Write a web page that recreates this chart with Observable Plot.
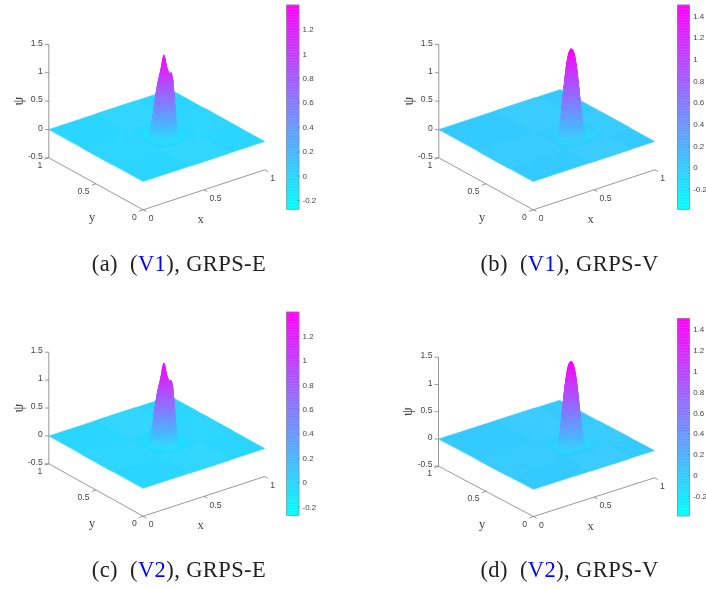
<!DOCTYPE html>
<html>
<head>
<meta charset="utf-8">
<script src="https://cdn.jsdelivr.net/npm/d3@7"></script>
<script src="https://cdn.jsdelivr.net/npm/@observablehq/plot@0.6"></script>
<style>
html,body{margin:0;padding:0;background:#fff;width:706px;height:589px;overflow:hidden}
#page{position:relative;width:706px;height:589px}
.panel{position:absolute;width:353px;height:289px}
.panel svg{display:block;background:#fff;filter:blur(.3px)}
.cap{position:absolute;white-space:nowrap;font-family:"Liberation Serif",serif;font-size:22.5px;color:#222;letter-spacing:.4px;transform:translateX(-50%);filter:blur(.2px)}
.cap b{font-weight:normal;color:#0000ff}
</style>
</head>
<body>
<div id="page"></div>
<script>
// surface height tables: psi at local grid around the peak (rows: y offset, columns: x offset)
const gridSteps = [-8,-7,-6,-5,-4,-3,-2,-1,0,1,2,3,4,5,6,7,8];
const gridSpacing = 0.02;
const psiE = [
[0,0,0,0,0,0,0,-.01,-.02,-.01,0,0,0,0,0,0,0],
[0,0,0,0,0,0,-.02,-.04,-.05,-.03,-.02,-.01,0,0,0,0,0],
[0,0,0,-.01,-.02,-.03,-.06,-.11,-.09,-.05,-.04,-.03,-.02,-.01,0,0,0],
[0,0,-.01,-.02,-.04,-.06,-.07,-.09,-.07,-.04,-.06,-.06,-.04,-.02,-.01,0,0],
[0,0,-.02,-.05,-.08,-.05,.03,.10,.14,.10,.03,-.04,-.06,-.04,-.02,0,0],
[0,-.01,-.03,-.07,-.09,.07,.27,.42,.50,.42,.27,.07,-.04,-.06,-.03,-.01,0],
[0,-.01,-.04,-.07,.01,.27,.60,.80,.90,.80,.70,.35,.03,-.06,-.04,-.01,0],
[0,-.02,-.05,-.04,.10,.42,.80,1.02,1.14,1.08,1.00,.90,.25,-.04,-.05,-.02,0],
[0,-.02,-.05,-.04,.14,.37,.84,1.11,1.39,1.16,1.03,.96,.28,-.04,-.05,-.02,0],
[0,-.02,-.05,-.04,.10,.42,.80,1.02,1.12,1.05,.95,.65,.20,-.04,-.05,-.02,0],
[0,-.01,-.04,-.06,.03,.27,.60,.80,.90,.80,.60,.27,.03,-.06,-.04,-.01,0],
[0,-.01,-.03,-.06,-.04,.07,.27,.42,.54,.42,.27,.07,-.04,-.06,-.03,-.01,0],
[0,0,-.02,-.04,-.06,-.04,.03,.10,.14,.10,.03,-.04,-.06,-.04,-.02,0,0],
[0,0,-.01,-.02,-.04,-.06,-.06,-.04,-.04,-.04,-.06,-.06,-.04,-.02,-.01,0,0],
[0,0,0,-.01,-.02,-.03,-.04,-.05,-.05,-.05,-.04,-.03,-.02,-.01,0,0,0],
[0,0,0,0,0,-.01,-.01,-.02,-.02,-.02,-.01,-.01,0,0,0,0,0],
[0,0,0,0,0,0,0,0,0,0,0,0,0,0,0,0,0]
];
const psiV = [
[0,0,0,0,0,0,0,0,0,0,0,0,0,0,0,0,0],
[0,0,0,0,-.01,-.01,-.01,-.01,-.02,-.01,-.01,-.01,0,0,0,0,0],
[0,0,-.01,-.01,-.02,-.02,-.03,-.03,-.03,-.03,-.03,-.02,-.02,-.01,-.01,0,0],
[0,-.01,-.03,-.05,-.04,-.03,-.03,-.02,-.02,-.02,-.03,-.04,-.05,-.04,-.02,-.01,0],
[0,-.02,-.08,-.12,-.09,-.05,-.03,.01,.04,.01,-.03,-.06,-.09,-.12,-.07,-.02,0],
[0,-.04,-.14,-.20,-.12,-.04,.14,.38,.50,.41,.18,-.02,-.12,-.19,-.14,-.04,0],
[0,-.04,-.15,-.20,-.08,.18,.59,.91,1.03,.91,.59,.18,-.06,-.19,-.14,-.04,0],
[0,-.02,-.07,-.10,.01,.41,.91,1.27,1.39,1.27,.91,.41,.01,-.09,-.06,-.02,0],
[0,-.02,-.03,-.04,.04,.50,1.03,1.39,1.50,1.39,1.03,.50,.04,-.04,-.03,-.02,0],
[0,-.02,-.03,-.05,.01,.41,.91,1.27,1.39,1.27,.91,.41,.01,-.05,-.03,-.02,0],
[0,-.01,-.03,-.05,-.05,.18,.59,.91,1.03,.91,.59,.18,-.05,-.05,-.03,-.01,0],
[0,-.01,-.03,-.04,-.05,-.02,.18,.41,.50,.41,.18,-.02,-.05,-.04,-.03,-.01,0],
[0,0,-.02,-.03,-.04,-.05,-.03,.01,.04,.01,-.03,-.05,-.04,-.03,-.02,0,0],
[0,0,-.01,-.02,-.03,-.03,-.04,-.04,-.04,-.04,-.04,-.03,-.03,-.02,-.01,0,0],
[0,0,0,-.01,-.01,-.01,-.02,-.02,-.02,-.02,-.02,-.01,-.01,-.01,0,0,0],
[0,0,0,0,0,0,-.01,-.01,-.01,-.01,-.01,0,0,0,0,0,0],
[0,0,0,0,0,0,0,0,0,0,0,0,0,0,0,0,0]
];
const peakE = [0.55, 0.49];
const peakV = [0.64, 0.42];
const colorDomainE = [-0.276, 1.397];
const colorDomainV = [-0.39, 1.5];
const colorTicksE = [-0.2, 0, 0.2, 0.4, 0.6, 0.8, 1, 1.2];
const colorTicksV = [-0.2, 0, 0.2, 0.4, 0.6, 0.8, 1, 1.2, 1.4];
const zTicks = [-0.5, 0, 0.5, 1, 1.5];
const xyTicks = [0, 0.5, 1];
const captions = [["(a)", "V1", "GRPS-E"], ["(b)", "V1", "GRPS-V"], ["(c)", "V2", "GRPS-E"], ["(d)", "V2", "GRPS-V"]];

// layout of the four panels
const panels = [
  {left:0,  top:0,  table:psiE, peak:peakE, domain:colorDomainE, ticks:colorTicksE, front:[142.7,209.3], xv:[121.6,-40], yv:[-94.4,-52], zu:56.7, bar:[286.7,299,5,209.3], capX:179, capTop:251},
  {left:353,top:0,  table:psiV, peak:peakV, domain:colorDomainV, ticks:colorTicksV, front:[179.7,209.3], xv:[121.6,-40], yv:[-94.4,-52], zu:56.7, bar:[324.3,336.7,5,209.3], capX:216.5, capTop:251},
  {left:0,  top:300,table:psiE, peak:peakE, domain:colorDomainE, ticks:colorTicksE, front:[142.7,215.7], xv:[121.6,-39.7], yv:[-94.4,-52.4], zu:55.8, bar:[286.7,299,12,215.7], capX:179, capTop:257},
  {left:353,top:300,table:psiV, peak:peakV, domain:colorDomainV, ticks:colorTicksV, front:[180,216], xv:[121,-38.7], yv:[-95,-50.3], zu:54.5, bar:[324.3,336.7,18.3,216], capX:216.5, capTop:257}
];

const page = document.getElementById("page");
const sans = "Liberation Sans, Arial, sans-serif", serif = "Liberation Serif, serif";
const axisGrey = "#777", textGrey = "#444";
const shadeSteps = 3; // mesh refinement per table cell, like MATLAB's interpolated shading

// smooth lookup in a table, used only to shade between its cells
function cr(p0, p1, p2, p3, t) {
  return p1 + 0.5*t*(p2 - p0 + t*(2*p0 - 5*p1 + 4*p2 - p3 + t*(3*(p1 - p2) + p3 - p0)));
}
function tableAt(table, u, v) {
  const n = table.length - 1;
  const at = (i, j) => table[Math.max(0, Math.min(n, j))][Math.max(0, Math.min(n, i))];
  const i = Math.min(n - 1, Math.floor(u)), j = Math.min(n - 1, Math.floor(v));
  const row = k => cr(at(i-1,k), at(i,k), at(i+1,k), at(i+2,k), u - i);
  return cr(row(j-1), row(j), row(j+1), row(j+2), v - j);
}

panels.forEach((p, n) => {
  const X = (x, y, z) => p.front[0] + p.xv[0]*x + p.yv[0]*y;
  const Y = (x, y, z) => p.front[1] + p.xv[1]*x + p.yv[1]*y - (z + 0.5)*p.zu;
  const fine = [];
  for (let k = 0; k < (gridSteps.length - 1)*shadeSteps; k++) fine.push(k/shadeSteps);
  fine.push(gridSteps.length - 1);
  const pos = (peak, u) => peak + gridSteps[0]*gridSpacing + u*gridSpacing;
  // mesh lines: frame edges plus refined lines over the table
  const us = [null, ...fine, null], vs = [null, ...fine, null];
  const xAt = a => us[a] === null ? (a === 0 ? 0 : 1) : pos(p.peak[0], us[a]);
  const yAt = b => vs[b] === null ? (b === 0 ? 0 : 1) : pos(p.peak[1], vs[b]);
  const h = (a, b) => (us[a] === null || vs[b] === null) ? 0 : tableAt(p.table, us[a], vs[b]);

  const quads = [];
  for (let b = 0; b < vs.length-1; b++) for (let a = 0; a < us.length-1; a++) {
    const c = [[a,b],[a+1,b],[a+1,b+1],[a,b+1]].map(([i,j]) => ({x:xAt(i), y:yAt(j), z:h(i,j)}));
    quads.push({c, psi:d3.mean(c, d => d.z), depth:Y(d3.mean(c, d => d.x), d3.mean(c, d => d.y), 0)});
  }
  quads.sort((u,v) => u.depth - v.depth);
  const verts = [];
  quads.forEach((q, id) => q.c.forEach(d => verts.push({q:id, psi:q.psi, px:X(d.x,d.y,d.z), py:Y(d.x,d.y,d.z)})));

  const [bL, bR, bT, bB] = p.bar;
  const [dMin, dMax] = p.domain;
  const barY = v => bB - (v - dMin)/(dMax - dMin)*(bB - bT);
  const levels = d3.range(128).map(i => {
    const v0 = dMin + (dMax-dMin)*i/128, v1 = dMin + (dMax-dMin)*(i+1)/128;
    return {v:(v0+v1)/2, y1:barY(v0), y2:barY(v1)};
  });

  const axes = [
    {x1:X(0,1,-.5), y1:Y(0,1,-.5), x2:X(0,1,1.5), y2:Y(0,1,1.5)},
    {x1:X(0,0,-.5), y1:Y(0,0,-.5), x2:X(1,0,-.5), y2:Y(1,0,-.5)},
    {x1:X(0,0,-.5), y1:Y(0,0,-.5), x2:X(0,1,-.5), y2:Y(0,1,-.5)},
    ...zTicks.map(z => ({x1:X(0,1,z), y1:Y(0,1,z), x2:X(0,1,z)-4, y2:Y(0,1,z)})),
    ...xyTicks.map(t => ({x1:X(t,0,-.5), y1:Y(t,0,-.5), x2:X(t,-.035,-.5), y2:Y(t,-.035,-.5)})),
    ...xyTicks.map(t => ({x1:X(0,t,-.5), y1:Y(0,t,-.5), x2:X(-.035,t,-.5), y2:Y(-.035,t,-.5)}))
  ];

  const svg = Plot.plot({
    width: 353, height: 236, margin: 0,
    x: {type:"identity", axis:null},
    y: {type:"identity", axis:null},
    color: {type:"linear", domain:p.domain, range:["#00ffff","#ff00ff"]},
    style: {background:"#fff"},
    marks: [
      Plot.link(axes, {x1:"x1", y1:"y1", x2:"x2", y2:"y2", stroke:axisGrey, strokeWidth:0.75}),
      Plot.line(verts, {x:"px", y:"py", z:"q", fill:"psi", stroke:"psi", strokeWidth:0.5, curve:"linear-closed", strokeLinejoin:"round"}),
      Plot.text(zTicks, {x:z => X(0,1,z), y:z => Y(0,1,z), text:String, dx:-6, dy:-1.5, textAnchor:"end", fontFamily:sans, fontSize:8.6, fill:textGrey}),
      Plot.text(xyTicks, {x:t => X(t,0,-.5), y:t => Y(t,0,-.5), text:String, dx:5.5, dy:8.4, textAnchor:"start", fontFamily:sans, fontSize:8.6, fill:textGrey}),
      Plot.text(xyTicks, {x:t => X(0,t,-.5), y:t => Y(0,t,-.5), text:String, dx:-6.5, dy:7.3, textAnchor:"end", fontFamily:sans, fontSize:8.6, fill:textGrey}),
      Plot.text(["x"], {x:() => X(.5,0,-.5), y:() => Y(.5,0,-.5), text:d => d, dx:-3.5, dy:29, fontFamily:serif, fontSize:12.5, fill:textGrey}),
      Plot.text(["y"], {x:() => X(0,.5,-.5), y:() => Y(0,.5,-.5), text:d => d, dx:-3.8, dy:33, fontFamily:serif, fontSize:12.5, fill:textGrey}),
      Plot.text(["ψ"], {x:() => X(0,1,.5), y:() => Y(0,1,.5), text:d => d, dx:-30.6, rotate:-90, fontFamily:serif, fontSize:14, fill:textGrey}),
      Plot.rect(levels, {x1:() => bL, x2:() => bR, y1:"y1", y2:"y2", fill:"v", stroke:"v", strokeWidth:0.4}),
      Plot.rect([0], {x1:() => bL, x2:() => bR, y1:() => bT, y2:() => bB, fill:"none", stroke:"#888", strokeWidth:0.6}),
      Plot.link(p.ticks, {x1:() => bR-2, x2:() => bR, y1:barY, y2:barY, stroke:"#666", strokeWidth:0.5}),
      Plot.text(p.ticks, {x:() => bR, y:barY, text:String, dx:3, textAnchor:"start", fontFamily:sans, fontSize:8, fill:textGrey})
    ]
  });

  const div = document.createElement("div");
  div.className = "panel";
  div.style.left = p.left + "px";
  div.style.top = p.top + "px";
  div.appendChild(svg);
  const [tag, ref, name] = captions[n];
  const cap = document.createElement("div");
  cap.className = "cap";
  cap.style.left = p.capX + "px";
  cap.style.top = p.capTop + "px";
  cap.innerHTML = tag + "&nbsp;&nbsp;(<b>" + ref + "</b>), " + name;
  div.appendChild(cap);
  page.appendChild(div);
});
</script>
</body>
</html>
